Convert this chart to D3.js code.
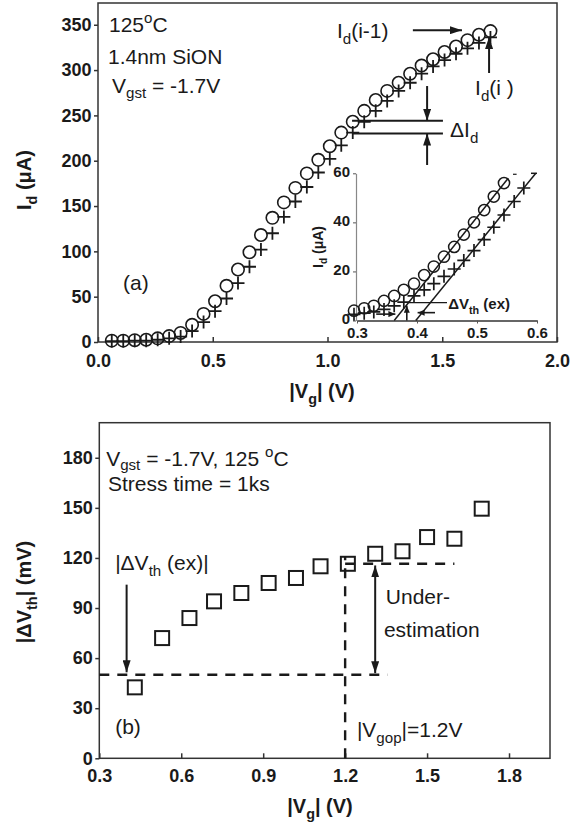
<!DOCTYPE html>
<html>
<head>
<meta charset="utf-8">
<script src="https://cdn.jsdelivr.net/npm/d3@7"></script>
<style>
body { margin: 0; background: #fff; }
svg { font-family: "Liberation Sans", Arial, Helvetica, sans-serif; }
</style>
</head>
<body>
<svg id="chart" width="582" height="824"></svg>
<script>
// ---- panel (a): Id-Vg, fresh (circles) and stressed (plus) ----
const vgA = [0.06, 0.11, 0.16, 0.21, 0.26, 0.31, 0.36, 0.41, 0.46, 0.51, 0.56, 0.61, 0.66, 0.71, 0.76, 0.81, 0.86,
             0.91, 0.96, 1.01, 1.06, 1.11, 1.16, 1.21, 1.26, 1.31, 1.36, 1.41, 1.46, 1.51, 1.56, 1.61, 1.66, 1.71];
const idFresh = [1.5, 1.5, 2, 2.5, 4, 6.5, 10, 19, 31, 45, 62, 80, 99, 118, 137, 154, 170,
                 186, 201, 216, 231, 243, 255, 267, 277, 286, 296, 305, 312, 320, 326, 333, 339, 343];
const idStress = [1, 1, 1.5, 1.5, 2.5, 4, 6, 12, 22, 34, 48, 65, 83, 102, 120, 138, 155,
                  171, 187, 202, 217, 231, 243, 255, 266, 277, 286, 296, 304, 311, 318, 324, 330, 336];
const ticksAx = [0, 0.5, 1.0, 1.5, 2.0];
const ticksAy = [0, 50, 100, 150, 200, 250, 300, 350];

// inset: zoom near threshold
const vgInFresh = [0.295, 0.312, 0.328, 0.345, 0.362, 0.378, 0.395, 0.412, 0.428, 0.445, 0.462, 0.478, 0.495, 0.512, 0.528, 0.545];
const idInFresh = [4, 5, 6, 8, 10, 12.5, 15, 18.5, 22, 26, 30, 35, 40, 45, 50.5, 56];
const vgInStress = [0.295, 0.312, 0.328, 0.345, 0.362, 0.378, 0.395, 0.412, 0.428, 0.445, 0.462, 0.478, 0.495, 0.512, 0.528, 0.545, 0.562, 0.578];
const idInStress = [2.5, 3, 3.5, 4.5, 6, 7.5, 10, 12.5, 15, 18, 21, 24.5, 28.5, 33, 38, 43, 48.5, 54];
const fitFresh = [[0.362, 0], [0.552, 58]];
const fitStress = [[0.398, 0], [0.598, 60]];
const ticksInX = [0.3, 0.4, 0.5, 0.6];
const ticksInY = [0, 20, 40, 60];

// ---- panel (b): |dVth| vs |Vg| ----
const vgB = [0.43, 0.53, 0.63, 0.72, 0.82, 0.92, 1.02, 1.11, 1.21, 1.31, 1.41, 1.50, 1.60, 1.70];
const dvthB = [42.5, 72, 84, 94, 99, 105, 108, 115, 116.5, 122.5, 124, 132.5, 131.5, 149.5];
const ticksBx = [0.3, 0.6, 0.9, 1.2, 1.5, 1.8];
const ticksBy = [0, 30, 60, 90, 120, 150, 180];

const ink = "#1a1a1a";
const svg = d3.select("#chart");

// arrow heads
const defs = svg.append("defs");
function arrowDef(id, w, h) {
    defs.append("marker")
        .attr("id", id)
        .attr("markerUnits", "userSpaceOnUse")
        .attr("markerWidth", w).attr("markerHeight", h)
        .attr("refX", w).attr("refY", h / 2)
        .attr("orient", "auto-start-reverse")
        .append("path")
        .attr("d", `M0,0L${w},${h / 2}L0,${h}z`)
        .attr("fill", ink);
}
arrowDef("arr", 12, 8);
arrowDef("arrS", 7, 6);

// text with sub/superscripts
function rich(g, x, y, parts, size, weight, anchor, subShift) {
    const t = g.append("text")
        .attr("x", x).attr("y", y)
        .attr("font-size", size)
        .attr("font-weight", weight || "normal")
        .attr("text-anchor", anchor || "start")
        .attr("fill", ink);
    const sub = subShift == null ? 0.3 : subShift;
    let shift = 0;
    parts.forEach(p => {
        const s = typeof p === "string" ? p : p[0];
        const kind = typeof p === "string" ? null : p[1];
        const target = kind === "sub" ? size * sub : kind === "sup" ? -size * 0.42 : 0;
        const sp = t.append("tspan").attr("dy", target - shift).text(s);
        if (kind) sp.attr("font-size", size * 0.72);
        shift = target;
    });
    return t;
}

function line(g, x1, y1, x2, y2, w) {
    return g.append("line")
        .attr("x1", x1).attr("y1", y1).attr("x2", x2).attr("y2", y2)
        .attr("stroke", ink).attr("stroke-width", w || 1.5);
}

function plusPath(x, y, h) {
    return `M${x - h},${y}H${x + h}M${x},${y - h}V${y + h}`;
}

// ================= panel (a) =================
const xA = d3.scaleLinear().domain([0, 2]).range([98, 557]);
const yA = d3.scaleLinear().domain([0, 374]).range([342, 3]);
const gA = svg.append("g");

gA.append("rect")
    .attr("x", xA(0)).attr("y", yA(374))
    .attr("width", xA(2) - xA(0)).attr("height", yA(0) - yA(374))
    .attr("fill", "none").attr("stroke", "#333").attr("stroke-width", 1.5);

const axAx = gA.append("g")
    .attr("transform", `translate(0,${yA(0)})`)
    .call(d3.axisBottom(xA).tickValues(ticksAx).tickFormat(d3.format(".1f"))
        .tickSizeInner(-5).tickSizeOuter(0).tickPadding(12));
const axAy = gA.append("g")
    .attr("transform", `translate(${xA(0)},0)`)
    .call(d3.axisLeft(yA).tickValues(ticksAy).tickSizeInner(4).tickSizeOuter(0).tickPadding(2.5));

[axAx, axAy].forEach(a => {
    a.select(".domain").remove();
    a.selectAll("line").attr("stroke", "#333").attr("stroke-width", 1.5);
    a.selectAll("text").attr("font-size", 18).attr("font-weight", "bold")
        .attr("font-family", "'Liberation Sans', Arial, sans-serif").attr("fill", ink);
});

rich(gA, 322, 398, ["|V", ["g", "sub"], "| (V)"], 20, "bold", "middle");
rich(gA.append("g").attr("transform", "translate(31,180) rotate(-90)"), 0, 0,
    ["I", ["d", "sub"], " (\u03bcA)"], 20, "bold", "middle");

// fresh circles / stressed pluses
gA.append("g").selectAll("circle")
    .data(vgA.map((v, i) => [v, idFresh[i]]))
    .join("circle")
    .attr("cx", d => xA(d[0])).attr("cy", d => yA(d[1]))
    .attr("r", 6.2)
    .attr("fill", "none").attr("stroke", ink).attr("stroke-width", 1.6);

gA.append("g").selectAll("path")
    .data(vgA.map((v, i) => [v, idStress[i]]))
    .join("path")
    .attr("d", d => plusPath(xA(d[0]), yA(d[1]), 6.5))
    .attr("fill", "none").attr("stroke", ink).attr("stroke-width", 1.8);

// labels panel (a)
rich(gA, 109, 32, ["125", ["o", "sup"], "C"], 21);
rich(gA, 108, 64, ["1.4nm SiON"], 21);
rich(gA, 112, 93, ["V", ["gst", "sub"], "  = -1.7V"], 21, null, null, 0.25);
rich(gA, 123, 290, ["(a)"], 21);

rich(gA, xA(1.041), yA(335.5), ["I", ["d", "sub"], "(i-1)"], 21);
line(gA, xA(1.372), yA(344), xA(1.586), yA(344), 2).attr("marker-end", "url(#arr)");
rich(gA, xA(1.643), yA(272.5), ["I", ["d", "sub"], "(i )"], 21);
line(gA, xA(1.704), yA(296.8), xA(1.704), yA(336.5), 2).attr("marker-end", "url(#arr)");

line(gA, xA(1.107), yA(244), xA(1.503), yA(244), 2);
line(gA, xA(1.107), yA(230), xA(1.503), yA(230), 2);
line(gA, xA(1.434), yA(282.4), xA(1.434), yA(244), 2).attr("marker-end", "url(#arr)");
line(gA, xA(1.434), yA(195.3), xA(1.434), yA(230), 2).attr("marker-end", "url(#arr)");
rich(gA, xA(1.534), yA(226.2), ["\u0394I", ["d", "sub"]], 21);

// ================= inset =================
const xI = d3.scaleLinear().domain([0.3, 0.6]).range([357, 537]);
const yI = d3.scaleLinear().domain([0, 60]).range([320.5, 173.3]);
const gI = svg.append("g");

const axIx = gI.append("g")
    .attr("transform", `translate(0,${yI(0)})`)
    .call(d3.axisBottom(xI).tickValues(ticksInX).tickFormat(d3.format(".1f"))
        .tickSizeInner(3).tickSizeOuter(0).tickPadding(4));
const axIy = gI.append("g")
    .attr("transform", `translate(${xI(0.3) - 1},0)`)
    .call(d3.axisLeft(yI).tickValues(ticksInY).tickSizeInner(3).tickSizeOuter(0).tickPadding(3));
axIx.select(".domain").attr("stroke", "#333").attr("stroke-width", 1.3);
axIy.select(".domain").attr("stroke", "#888").attr("stroke-width", 1.2);
[axIx, axIy].forEach(a => {
    a.selectAll("line").attr("stroke", "#555");
    a.selectAll("text").attr("font-size", 15).attr("font-weight", "bold")
        .attr("font-family", "'Liberation Sans', Arial, sans-serif").attr("fill", ink);
});
axIy.selectAll("text").attr("dy", "0.22em");
rich(gI.append("g").attr("transform", "translate(323,247) rotate(-90)"), 0, 0,
    ["I", ["d", "sub"], " (\u03bcA)"], 14, "bold", "middle");

gI.append("g").selectAll("circle")
    .data(vgInFresh.map((v, i) => [v, idInFresh[i]]))
    .join("circle")
    .attr("cx", d => xI(d[0])).attr("cy", d => yI(d[1]))
    .attr("r", 5.6)
    .attr("fill", "none").attr("stroke", ink).attr("stroke-width", 1.5);

gI.append("g").selectAll("path")
    .data(vgInStress.map((v, i) => [v, idInStress[i]]))
    .join("path")
    .attr("d", d => plusPath(xI(d[0]), yI(d[1]), 6.5))
    .attr("fill", "none").attr("stroke", ink).attr("stroke-width", 1.7);

const fitLine = d3.line().x(d => xI(d[0])).y(d => yI(d[1]));
gI.append("path").attr("d", fitLine(fitFresh)).attr("fill", "none").attr("stroke", ink).attr("stroke-width", 1.5);
gI.append("path").attr("d", fitLine(fitStress)).attr("fill", "none").attr("stroke", ink).attr("stroke-width", 1.5);
line(gI, xI(0.560), yI(59.6), xI(0.566), yI(59.6), 1.2);
line(gI, xI(0.590), yI(60), xI(0.600), yI(60), 1.5);

// dVth(ex) marks
line(gI, xI(0.385), yI(7.3), xI(0.450), yI(7.3), 1.2);
line(gI, xI(0.332), yI(2.6), xI(0.364), yI(2.6), 1.6).attr("marker-end", "url(#arrS)");
line(gI, xI(0.430), yI(3.2), xI(0.401), yI(3.2), 1.6).attr("marker-end", "url(#arrS)");
line(gI, xI(0.383), yI(0), xI(0.383), yI(6), 1.6).attr("marker-end", "url(#arrS)");
rich(gI, xI(0.452), yI(4.6), ["\u0394V", ["th", "sub"], " (ex)"], 15, "bold");

// ================= panel (b) =================
const xB = d3.scaleLinear().domain([0.3, 1.95]).range([99.3, 550]);
const yB = d3.scaleLinear().domain([0, 201]).range([758.3, 422.7]);
const gB = svg.append("g");

gB.append("rect")
    .attr("x", xB(0.3)).attr("y", yB(201))
    .attr("width", xB(1.95) - xB(0.3)).attr("height", yB(0) - yB(201))
    .attr("fill", "none").attr("stroke", "#333").attr("stroke-width", 1.5);

const axBx = gB.append("g")
    .attr("transform", `translate(0,${yB(0)})`)
    .call(d3.axisBottom(xB).tickValues(ticksBx).tickFormat(d3.format(".1f"))
        .tickSizeInner(-5).tickSizeOuter(0).tickPadding(11));
const axBy = gB.append("g")
    .attr("transform", `translate(${xB(0.3)},0)`)
    .call(d3.axisLeft(yB).tickValues(ticksBy).tickSizeInner(4).tickSizeOuter(0).tickPadding(2.5));
[axBx, axBy].forEach(a => {
    a.select(".domain").remove();
    a.selectAll("line").attr("stroke", "#333").attr("stroke-width", 1.5);
    a.selectAll("text").attr("font-size", 18).attr("font-weight", "bold")
        .attr("font-family", "'Liberation Sans', Arial, sans-serif").attr("fill", ink);
});

rich(gB, 320, 813, ["|V", ["g", "sub"], "| (V)"], 20, "bold", "middle");
rich(gB.append("g").attr("transform", "translate(31,592) rotate(-90)"), 0, 0,
    ["|\u0394V", ["th", "sub"], "| (mV)"], 20, "bold", "middle");

// dashed guides
const dash = "10,8";
line(gB, xB(0.3), yB(50), xB(1.355), yB(50), 2.4).attr("stroke-dasharray", dash);
line(gB, xB(1.2), yB(0), xB(1.2), yB(121), 2.4).attr("stroke-dasharray", dash);
line(gB, xB(1.2), yB(116.5), xB(1.60), yB(116.5), 2.4).attr("stroke-dasharray", dash);

gB.append("g").selectAll("rect")
    .data(vgB.map((v, i) => [v, dvthB[i]]))
    .join("rect")
    .attr("x", d => xB(d[0]) - 7).attr("y", d => yB(d[1]) - 7)
    .attr("width", 14).attr("height", 14)
    .attr("fill", "none").attr("stroke", ink).attr("stroke-width", 2);

// arrows
line(gB, xB(0.4), yB(104), xB(0.4), yB(51.5), 2).attr("marker-end", "url(#arr)");
line(gB, xB(1.31), yB(51), xB(1.31), yB(115.5), 2)
    .attr("marker-start", "url(#arr)").attr("marker-end", "url(#arr)");

// labels panel (b)
rich(gB, xB(0.325), yB(175), ["V", ["gst", "sub"], " = -1.7V, 125 ", ["o", "sup"], "C"], 21, null, null, 0.2);
rich(gB, xB(0.332), yB(160), ["Stress time = 1ks"], 21);
rich(gB, xB(0.358), yB(112.9), ["|\u0394V", ["th", "sub"], " (ex)|"], 21);
rich(gB, xB(1.349), yB(92.6), ["Under-"], 21);
rich(gB, xB(1.342), yB(72.8), ["estimation"], 21);
rich(gB, xB(0.358), yB(14.6), ["(b)"], 21);
rich(gB, xB(1.243), yB(12.8), ["|V", ["gop", "sub"], "|=1.2V"], 21);
</script>
</body>
</html>
